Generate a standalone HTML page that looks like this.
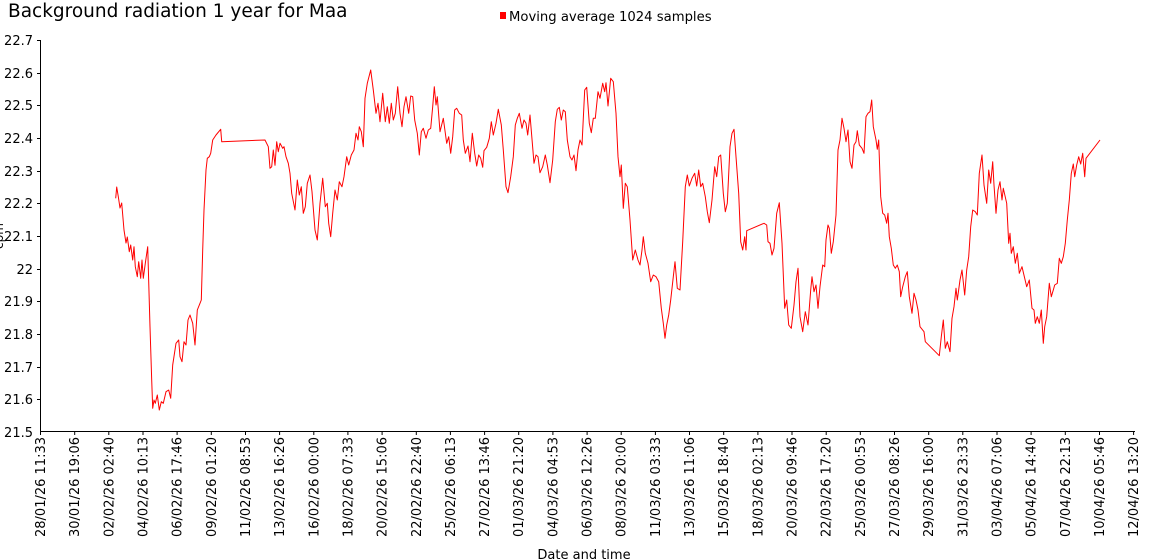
<!DOCTYPE html>
<html><head><meta charset="utf-8"><style>
html,body{margin:0;padding:0;background:#fff;}
svg{display:block;font-family:"DejaVu Sans","Liberation Sans",sans-serif;}
</style></head><body>
<svg width="1150" height="560" xmlns="http://www.w3.org/2000/svg">
<text x="8" y="17" font-size="18.5" fill="#000">Background radiation 1 year for Maa</text>
<rect x="500" y="12" width="6" height="7" fill="#f00"/>
<text x="509" y="21" font-size="13.2" fill="#000">Moving average 1024 samples</text>
<text transform="translate(3,236) rotate(-90)" font-size="12" text-anchor="middle" fill="#000">cpm</text>
<text x="584" y="559" font-size="13" text-anchor="middle" fill="#000">Date and time</text>
<g stroke="#000" stroke-width="1" fill="none">
<line x1="40.5" y1="40" x2="40.5" y2="432"/>
<line x1="40" y1="431.5" x2="1135" y2="431.5"/>
<path d="M40.5 431v4M74.7 431v4M108.8 431v4M143 431v4M177.1 431v4M211.3 431v4M245.5 431v4M279.6 431v4M313.8 431v4M347.9 431v4M382.1 431v4M416.3 431v4M450.4 431v4M484.6 431v4M518.7 431v4M552.9 431v4M587.1 431v4M621.2 431v4M655.4 431v4M689.5 431v4M723.7 431v4M757.9 431v4M792 431v4M826.2 431v4M860.3 431v4M894.5 431v4M928.7 431v4M962.8 431v4M997 431v4M1031.1 431v4M1065.3 431v4M1099.5 431v4M1133.6 431v4"/>
<path d="M37 40.5h4M37 73.5h4M37 105.5h4M37 138.5h4M37 171.5h4M37 203.5h4M37 236.5h4M37 269.5h4M37 301.5h4M37 334.5h4M37 367.5h4M37 399.5h4"/>
</g>
<polyline fill="none" stroke="#f00" stroke-width="1" stroke-linejoin="round" points="115.7,198.3 116.7,187 118.3,196.7 120,208 121.7,203 124,230 126,243 127.3,237 129.3,251.7 130.7,245 132.7,260 134,246.7 135.3,266.7 137.3,276.7 138.7,261.7 140.7,278.3 142,260 143.3,278.3 145.3,263.3 147.7,246.7 150,326.7 151.7,380 152.7,408.3 154,400 155.3,403.3 157.3,395 159.3,410 161.3,401.7 163.3,403.3 166,391.7 168.7,390 170.7,398.3 172.7,365 176,343.3 178.7,340 180,356.7 182,361.7 184,341.7 186,345 188,320 190,315 192.7,323.3 195,345 197.3,310 200,303.3 201.3,300 202.7,250 204,210 206,170 207.3,158.3 209.3,156.7 210.7,153.3 212.7,140 216,135 220.7,129.3 221.7,141.7 265,140 268.3,146.7 270,168.3 271.7,166.7 273.3,150 275,165.3 276.7,141.7 278.3,151.7 280,143.3 282.7,148.3 284,146.7 286,156.7 288.3,163.3 290,173.3 291.7,193.3 295,210 297.3,180 299.3,195 301.3,186.7 303.3,213.3 305.3,206.7 307.3,183.3 310,175 312,191.7 315,230 317.3,240 320,203.3 322.7,178.3 325.3,206.7 327.3,203.3 328.7,223.3 330.7,236.7 332.7,213.3 335,190 337.3,200 339.3,181.7 342,186.7 344,176.7 346.7,156.7 348.7,165 351.3,155 354,150 356,133.3 358,140 359.3,126.7 361.3,131.7 363.3,146.7 365,98.3 367.3,83.3 370.7,70 373.3,90 376,113.3 378,103.3 380,121.7 382.7,93.3 385.3,121.7 387.3,106.7 389.3,123.3 391.3,103.3 393.3,120 395.3,113.3 397.7,86.7 400,113.3 402,126.7 404,106.7 406,96.7 408.7,113.3 410.7,96 412.7,96.7 414.7,120 417.3,133.3 419.3,155 421.3,131.7 423.3,128.3 426,138.3 428.3,130 430.7,128.3 432.7,106.7 434.3,86.7 436,105 437.3,96.7 440,131.7 443.3,118.3 446.7,143.3 448.7,136.7 450.7,153.3 452.7,136.7 454.7,110 456.7,108.3 459.3,113.3 461.7,115 463.3,140 465.3,153.3 468,146 470,161.7 472.3,133.3 474.7,153.3 476.7,166 478.7,155 480.7,158.3 482.7,167.3 484,150.7 486.7,147.3 489.3,138.3 491.3,121.7 493.3,135 496,123.3 498.3,109.3 501.3,125 503.3,150 506,186.7 508,192.7 510.7,176.7 513.3,156.7 515.3,125 517.3,118.3 519.3,113.3 522,128.3 524,120 526,123.3 527.7,135 530,115 534,163.3 536,155 538,156.7 540,172.7 542.7,166.7 545.3,155 547.3,165 550,182.7 552.7,160 555.3,121.7 557.3,109.3 559.3,107.3 561.3,120 563.3,110 565.3,111.7 567.3,140 570,156.7 572,160 574,155 576,170.7 578,150 580,140 582,145 584.7,90 586.7,87.3 589.3,123.3 591.3,132.7 593.3,118.3 595.3,118.3 598,91.7 600,98.3 602.7,83.3 604.7,91.7 606,82.7 608,106 610.7,78.3 613.3,81.7 616,113.3 618,156.7 620,176.7 621.3,165 623.3,208.3 625.3,183.3 627.3,186.7 630,220 632.7,260 635.3,250 638,260 640,265 642,250 643.3,236.7 645.3,253.3 648,263.3 650.7,281.7 653.3,275 656,276.7 658.7,281.7 661.3,308.3 663.3,323.3 665,338.3 666.7,325 668.7,315 670.7,300 673.3,276.7 675,261.7 677.3,288.3 680,290 682.7,241.7 685.3,186.7 687.3,175 689.3,186 692,178.3 694.7,173.3 696.7,186 698.7,170 700.7,186.7 702.7,183.3 705.3,196.7 707.3,211.7 709.3,222.7 712,200 714.7,166.7 716.7,176.7 718.7,156.7 720.7,155 723.3,193.3 725.3,211.7 727.3,203.3 730,146.7 732,133.3 734,129.3 736,156.7 738.7,193.3 740.7,241.7 742.7,250 744.7,236.7 746,250 746.7,230.7 764,223.3 766.7,225 768,241.7 770,243.3 772,255 774,248.3 776.7,213.3 779.3,202.7 782,243.3 784.7,308.3 786.7,300 788.7,325 791.3,328.3 794,305 796,281.7 798,268.3 800,316.7 802.7,331.7 805.3,311.7 808,325 810.7,290 812,276.7 814,291.7 816,285 818,308.3 820,286.7 822.7,265 824.7,266.7 826,240 828,225 829.3,228.3 831.3,253.3 833.3,241.7 836,215 838,150 840,140 842,118.3 844,128.3 846,141.7 848,130 850,161.7 852,168.3 854,145 856,141.7 857.3,130.7 859.3,145 862,148.3 864,153.3 866,116.7 868,113.3 870,111.7 871.7,100 873.3,126.7 876,140 877.3,149.3 878.7,140 880.7,196.7 882.7,213.3 884.7,215 886.7,223.3 888,213.3 889.3,236.7 891.3,248.3 893.3,265 895.3,268.3 897.3,265 899.3,271.7 900.7,296.7 902.7,286.7 905.3,276.7 907.3,271.7 909.3,296.7 912,313.3 914,293.3 916,300 918,310 920,326.7 924,331.7 925.3,341.7 939.3,355.7 941.3,336.7 943.3,320 945.3,348.3 947.3,341.7 950,351.7 952,318.3 954,306.7 956,288.3 957.3,300 960,280 962,270 964.7,295 966.7,270 968.7,256.7 970.7,226.7 972.7,210 975.3,211.7 977.3,215 979.3,173.3 982,155 984,185 986.7,203.3 988.7,170 990.7,183.3 992.7,161.7 994,185 996,213.3 998,190 1000,181.7 1002,200 1003.3,188.3 1006.7,203.3 1008.7,243.3 1010,233.3 1011.3,253.3 1013.3,246.7 1015.3,263.3 1017.3,253.3 1019.3,273.3 1022,266.7 1024.7,278.3 1026.7,286.7 1029.3,280 1032,308.3 1034,310 1035.3,323.3 1037.3,316.7 1039.3,323.3 1041.3,310 1043.3,343.3 1044.7,326.7 1046.7,316.7 1049.3,283.3 1051.3,296.7 1053.3,290 1054.7,285 1057.3,283.3 1059.3,258.3 1061.3,263.3 1063.3,256.7 1065.3,243.3 1067.3,220 1069.3,200 1071.3,173.3 1073.3,164 1074.7,176.7 1076.7,165 1078.7,156.7 1080.7,164 1082.7,153.3 1084.7,176.7 1086,158.3 1100,140"/>
<g font-size="13" text-anchor="end" fill="#000">
<text x="33" y="45">22.7</text>
<text x="33" y="78">22.6</text>
<text x="33" y="110">22.5</text>
<text x="33" y="143">22.4</text>
<text x="33" y="176">22.3</text>
<text x="33" y="208">22.2</text>
<text x="33" y="241">22.1</text>
<text x="33" y="274">22</text>
<text x="33" y="306">21.9</text>
<text x="33" y="339">21.8</text>
<text x="33" y="372">21.7</text>
<text x="33" y="404">21.6</text>
<text x="33" y="437">21.5</text>
</g>
<g font-size="13" text-anchor="end" fill="#000">
<text transform="translate(45,437) rotate(-90)">28/01/26 11:33</text>
<text transform="translate(79.2,437) rotate(-90)">30/01/26 19:06</text>
<text transform="translate(113.3,437) rotate(-90)">02/02/26 02:40</text>
<text transform="translate(147.5,437) rotate(-90)">04/02/26 10:13</text>
<text transform="translate(181.6,437) rotate(-90)">06/02/26 17:46</text>
<text transform="translate(215.8,437) rotate(-90)">09/02/26 01:20</text>
<text transform="translate(250,437) rotate(-90)">11/02/26 08:53</text>
<text transform="translate(284.1,437) rotate(-90)">13/02/26 16:26</text>
<text transform="translate(318.3,437) rotate(-90)">16/02/26 00:00</text>
<text transform="translate(352.4,437) rotate(-90)">18/02/26 07:33</text>
<text transform="translate(386.6,437) rotate(-90)">20/02/26 15:06</text>
<text transform="translate(420.8,437) rotate(-90)">22/02/26 22:40</text>
<text transform="translate(454.9,437) rotate(-90)">25/02/26 06:13</text>
<text transform="translate(489.1,437) rotate(-90)">27/02/26 13:46</text>
<text transform="translate(523.2,437) rotate(-90)">01/03/26 21:20</text>
<text transform="translate(557.4,437) rotate(-90)">04/03/26 04:53</text>
<text transform="translate(591.6,437) rotate(-90)">06/03/26 12:26</text>
<text transform="translate(625.7,437) rotate(-90)">08/03/26 20:00</text>
<text transform="translate(659.9,437) rotate(-90)">11/03/26 03:33</text>
<text transform="translate(694,437) rotate(-90)">13/03/26 11:06</text>
<text transform="translate(728.2,437) rotate(-90)">15/03/26 18:40</text>
<text transform="translate(762.4,437) rotate(-90)">18/03/26 02:13</text>
<text transform="translate(796.5,437) rotate(-90)">20/03/26 09:46</text>
<text transform="translate(830.7,437) rotate(-90)">22/03/26 17:20</text>
<text transform="translate(864.8,437) rotate(-90)">25/03/26 00:53</text>
<text transform="translate(899,437) rotate(-90)">27/03/26 08:26</text>
<text transform="translate(933.2,437) rotate(-90)">29/03/26 16:00</text>
<text transform="translate(967.3,437) rotate(-90)">31/03/26 23:33</text>
<text transform="translate(1001.5,437) rotate(-90)">03/04/26 07:06</text>
<text transform="translate(1035.6,437) rotate(-90)">05/04/26 14:40</text>
<text transform="translate(1069.8,437) rotate(-90)">07/04/26 22:13</text>
<text transform="translate(1104,437) rotate(-90)">10/04/26 05:46</text>
<text transform="translate(1138.1,437) rotate(-90)">12/04/26 13:20</text>
</g>
</svg>
</body></html>
